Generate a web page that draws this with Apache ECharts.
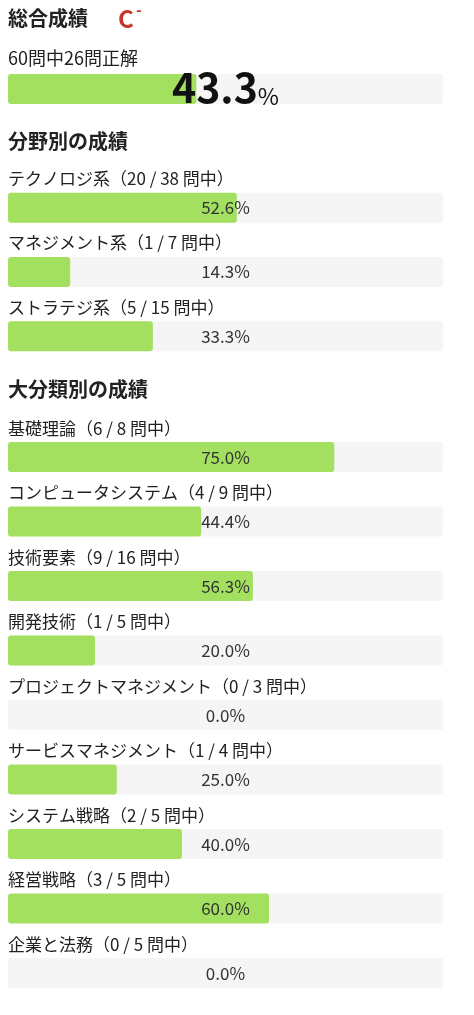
<!DOCTYPE html>
<html><head><meta charset="utf-8">
<script src="https://cdn.jsdelivr.net/npm/echarts@6/dist/echarts.min.js"></script>
<style>html,body{margin:0;padding:0;background:#fff;}#c{width:474px;height:1015px;}</style>
</head><body><div id="c"></div>
<script>
// ---- data ----
const overallTitle = '総合成績';
const overallGrade = 'C';
const overallCorrect = 26;
const overallTotal = 60;
const overallPct = [43.3];

const fieldTitle = '分野別の成績';
const fieldNames = ['テクノロジ系', 'マネジメント系', 'ストラテジ系'];
const fieldCorrect = [20, 1, 5];
const fieldTotal = [38, 7, 15];
const fieldPct = [52.6, 14.3, 33.3];

const catTitle = '大分類別の成績';
const catNames = ['基礎理論', 'コンピュータシステム', '技術要素', '開発技術', 'プロジェクトマネジメント', 'サービスマネジメント', 'システム戦略', '経営戦略', '企業と法務'];
const catCorrect = [6, 4, 9, 1, 0, 1, 2, 3, 0];
const catTotal = [8, 9, 16, 5, 3, 4, 5, 5, 5];
const catPct = [75.0, 44.4, 56.3, 20.0, 0.0, 25.0, 40.0, 60.0, 0.0];

// ---- chart ----
const FONT = '"Noto Sans CJK JP", "Noto Sans", sans-serif';
const GREEN = '#a3e060';
const TRACK = '#f5f5f5';

const grids = [
  { left: 8, right: 31, top: 74, height: 30 },
  { left: 8, right: 31, top: 175.5, height: 193 },
  { left: 8, right: 31, top: 424.8, height: 580.5 }
];

const xAxis = grids.map((g, i) => ({ gridIndex: i, type: 'value', min: 0, max: 100, show: false }));
const yAxis = [
  { gridIndex: 0, type: 'category', data: ['total'], inverse: true, show: false },
  { gridIndex: 1, type: 'category', data: fieldNames, inverse: true, show: false },
  { gridIndex: 2, type: 'category', data: catNames, inverse: true, show: false }
];

function makeSeries(idx, pcts, names, correct, total, big) {
  const full = pcts.map(() => 100);
  const s = [
    { type: 'bar', xAxisIndex: idx, yAxisIndex: idx, data: full, barWidth: 30, barGap: '-100%',
      itemStyle: { color: TRACK, borderRadius: 3 }, silent: true, animation: false, z: 1 },
    { type: 'bar', xAxisIndex: idx, yAxisIndex: idx, data: pcts, barWidth: 30, barGap: '-100%',
      itemStyle: { color: GREEN, borderRadius: 3 }, silent: true, animation: false, z: 2 },
  ];
  if (big) {
    s.push({ type: 'bar', xAxisIndex: idx, yAxisIndex: idx, data: full, barWidth: 30, barGap: '-100%',
      itemStyle: { color: 'transparent' }, silent: true, animation: false, z: 3,
      label: { show: true, position: 'inside', offset: [0, -3],
        formatter: (p) => '{a|' + pcts[p.dataIndex].toFixed(1) + '}{b|%}',
        rich: {
          a: { fontFamily: FONT, fontSize: 41, fontWeight: 'bold', color: '#111', verticalAlign: 'bottom', lineHeight: 44 },
          b: { fontFamily: FONT, fontSize: 23, color: '#111', verticalAlign: 'bottom', lineHeight: 38 }
        } } });
  } else {
    s.push({ type: 'bar', xAxisIndex: idx, yAxisIndex: idx, data: full, barWidth: 30, barGap: '-100%',
      itemStyle: { color: 'transparent' }, silent: true, animation: false, z: 3,
      label: { show: true, position: 'inside', fontFamily: FONT, fontSize: 17, color: '#333',
        formatter: (p) => pcts[p.dataIndex].toFixed(1) + '%' } });
    s.push({ type: 'bar', xAxisIndex: idx, yAxisIndex: idx, data: full, barWidth: 30, barGap: '-100%',
      itemStyle: { color: 'transparent' }, silent: true, animation: false, z: 3,
      label: { show: true, position: [0, -14], align: 'left', verticalAlign: 'middle',
        fontFamily: FONT, fontSize: 17, color: '#222',
        formatter: (p) => names[p.dataIndex] + '（' + correct[p.dataIndex] + ' / ' + total[p.dataIndex] + ' 問中）' } });
  }
  return s;
}

const series = [].concat(
  makeSeries(0, overallPct, null, null, null, true),
  makeSeries(1, fieldPct, fieldNames, fieldCorrect, fieldTotal, false),
  makeSeries(2, catPct, catNames, catCorrect, catTotal, false)
);

const titleStyle = { fontFamily: FONT, fontSize: 20, fontWeight: 'bold', color: '#222' };
const option = {
  backgroundColor: '#fff',
  animation: false,
  title: [
    { text: overallTitle, left: 8, top: 8, padding: 0, textStyle: titleStyle },
    { text: overallGrade, left: 118, top: 7, padding: 0, textStyle: { fontFamily: FONT, fontSize: 24, fontWeight: 'bold', color: '#c9352a' } },
    { text: '-', left: 136, top: 2, padding: 0, textStyle: { fontFamily: FONT, fontSize: 16, fontWeight: 'bold', color: '#c9352a' } },
    { text: overallTotal + '問中' + overallCorrect + '問正解', left: 8, top: 49, padding: 0, textStyle: { fontFamily: FONT, fontSize: 18, fontWeight: 'normal', color: '#222' } },
    { text: fieldTitle, left: 8, top: 131, padding: 0, textStyle: titleStyle },
    { text: catTitle, left: 8, top: 379, padding: 0, textStyle: titleStyle }
  ],
  grid: grids,
  xAxis: xAxis,
  yAxis: yAxis,
  series: series
};

const chart = echarts.init(document.getElementById('c'), null, { renderer: 'canvas' });
chart.setOption(option);
</script>
</body></html>
